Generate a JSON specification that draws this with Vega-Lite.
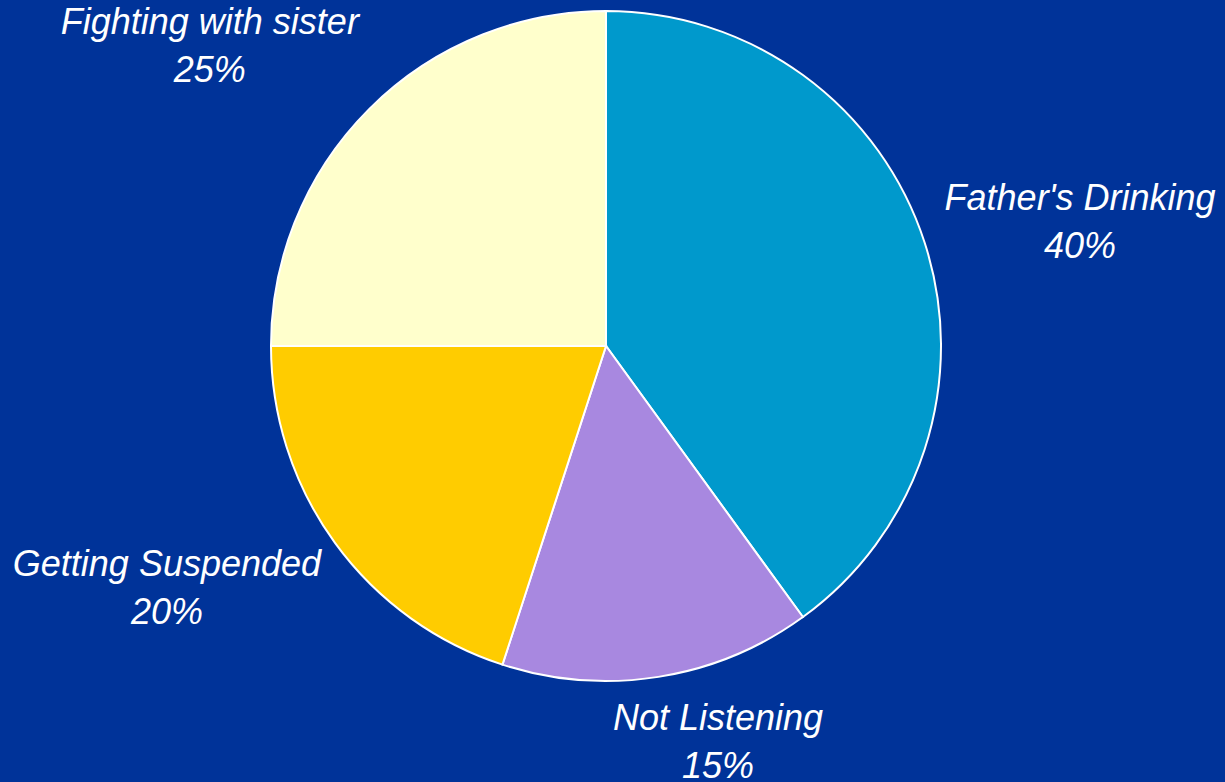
{
  "$schema": "https://vega.github.io/schema/vega-lite/v6.json",
  "width": 1212,
  "height": 692,
  "autosize": {"type": "none"},
  "padding": {"left": 0, "top": 0, "right": 13, "bottom": 90},
  "background": "#003399",
  "config": {"view": {"stroke": null}},
  "data": {
    "values": [
      {"category": "Father's Drinking", "value": 40, "order": 1},
      {"category": "Not Listening", "value": 15, "order": 2},
      {"category": "Getting Suspended", "value": 20, "order": 3},
      {"category": "Fighting with sister", "value": 25, "order": 4}
    ]
  },
  "transform": [
    {"stack": "value", "groupby": [], "sort": [{"field": "order", "order": "ascending"}], "as": ["start", "end"]},
    {"calculate": "(datum.start + datum.end) / 2", "as": "mid"},
    {"calculate": "datum.category + '\\n' + datum.value + '%'", "as": "label"}
  ],
  "layer": [
    {
      "mark": {"type": "arc", "outerRadius": 335, "stroke": "white", "strokeWidth": 2},
      "encoding": {
        "theta": {"field": "start", "type": "quantitative", "scale": {"domain": [0, 100]}},
        "theta2": {"field": "end"},
        "color": {
          "field": "category",
          "type": "nominal",
          "scale": {
            "domain": ["Father's Drinking", "Not Listening", "Getting Suspended", "Fighting with sister"],
            "range": ["#0099CC", "#A888E0", "#FFCC00", "#FFFFCC"]
          },
          "legend": null
        }
      }
    },
    {
      "transform": [{"filter": "datum.category === \"Father's Drinking\""}],
      "mark": {"type": "text", "radius": 489, "dx": 9, "dy": 4, "font": "Liberation Sans", "fontSize": 36, "fontStyle": "italic", "color": "white", "lineBreak": "\n", "lineHeight": 48, "align": "center", "baseline": "middle"},
      "encoding": {
        "theta": {"field": "mid", "type": "quantitative"},
        "text": {"field": "label"}
      }
    },
    {
      "transform": [{"filter": "datum.category === 'Not Listening'"}],
      "mark": {"type": "text", "radius": 409, "dx": 48, "dy": -31, "font": "Liberation Sans", "fontSize": 36, "fontStyle": "italic", "color": "white", "lineBreak": "\n", "lineHeight": 48, "align": "center", "baseline": "middle"},
      "encoding": {
        "theta": {"field": "mid", "type": "quantitative"},
        "text": {"field": "label"}
      }
    },
    {
      "transform": [{"filter": "datum.category === 'Getting Suspended'"}],
      "mark": {"type": "text", "radius": 497, "dx": -37, "dy": -73, "font": "Liberation Sans", "fontSize": 36, "fontStyle": "italic", "color": "white", "lineBreak": "\n", "lineHeight": 48, "align": "center", "baseline": "middle"},
      "encoding": {
        "theta": {"field": "mid", "type": "quantitative"},
        "text": {"field": "label"}
      }
    },
    {
      "transform": [{"filter": "datum.category === 'Fighting with sister'"}],
      "mark": {"type": "text", "radius": 491, "dx": -49, "dy": 24, "font": "Liberation Sans", "fontSize": 36, "fontStyle": "italic", "color": "white", "lineBreak": "\n", "lineHeight": 48, "align": "center", "baseline": "middle"},
      "encoding": {
        "theta": {"field": "mid", "type": "quantitative"},
        "text": {"field": "label"}
      }
    }
  ]
}
